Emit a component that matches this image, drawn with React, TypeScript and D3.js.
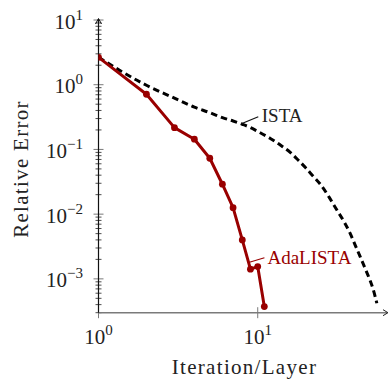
import React from "react";
import * as d3 from "d3";

// AdaLISTA, one value per layer
const adaIters = [1, 2, 3, 4, 5, 6, 7, 8, 9, 10, 11];
const adaErr = [2.65, 0.712, 0.217, 0.144, 0.0731, 0.029, 0.0126, 0.004, 0.00141, 0.00155, 0.000373];

// ISTA
const istaIters = [1, 2, 3, 4, 5, 6, 7, 8, 9, 10, 12, 14, 16, 18, 20, 22, 25, 28, 31, 35, 38, 41, 44, 47, 50, 53, 56];
const istaErr = [
  2.65, 0.98, 0.62, 0.45, 0.37, 0.31, 0.275, 0.245, 0.218, 0.19, 0.148, 0.115, 0.09, 0.068, 0.052, 0.04, 0.028,
  0.0185, 0.0122, 0.0075, 0.0051, 0.0033, 0.0022, 0.0015, 0.00104, 0.0007, 0.00042,
];

const xTickExps = [0, 1];
const yTickExps = [1, 0, -1, -2, -3];
const xDomain = [1, 65.8];
const yDomain = [3.0e-4, 10];

const W = 390;
const H = 379;
const margin = { left: 98.5, right: 2, top: 20, bottom: 66.3 };
const RED = "#990000";
const GRAY = "#7a7a7a";
const FONT = "Liberation Serif";

export default function App() {
  const x = d3.scaleLog().domain(xDomain).range([margin.left, W - margin.right]);
  const y = d3.scaleLog().domain(yDomain).range([H - margin.bottom, margin.top]);
  const x0 = margin.left;
  const y0 = H - margin.bottom;

  const ista = istaIters.map((it, i) => ({ it, v: istaErr[i] }));
  const ada = adaIters.map((it, i) => ({ it, v: adaErr[i] }));

  const istaLine = d3
    .line<{ it: number; v: number }>()
    .x((d) => x(d.it))
    .y((d) => y(d.v))
    .curve(d3.curveMonotoneX);
  const adaLine = d3
    .line<{ it: number; v: number }>()
    .x((d) => x(d.it))
    .y((d) => y(d.v));

  // minor ticks for the y axis
  const minor: number[] = [];
  for (let e = -4; e <= 0; e++) {
    for (let k = 2; k <= 9; k++) {
      const v = k * Math.pow(10, e);
      if (v >= yDomain[0] && v <= yDomain[1]) minor.push(v);
    }
  }

  // label anchors on the curves
  const istaPin = ista[7];
  const adaPin = ada[8];
  const ix = x(istaPin.it);
  const iy = y(istaPin.v);
  const ax = x(adaPin.it);
  const ay = y(adaPin.v) - 7;

  return (
    <svg width={W} height={H} style={{ position: "absolute", left: 0, top: 0 }}>
      <defs>
        <clipPath id="plot">
          <rect x={x0} y={0} width={W - x0} height={y0 + 1} />
        </clipPath>
      </defs>

      {/* y minor ticks */}
      {minor.map((v) => (
        <line key={v} x1={x0 - 3} x2={x0 + 3} y1={y(v)} y2={y(v)} stroke="#222" strokeWidth={0.8} />
      ))}
      {/* y major ticks */}
      {yTickExps.map((e) => (
        <line key={e} x1={x0 - 5} x2={x0 + 5} y1={y(Math.pow(10, e))} y2={y(Math.pow(10, e))} stroke={GRAY} strokeWidth={1} />
      ))}
      {yTickExps.map((e) => (
        <text key={e} x={83} y={y(Math.pow(10, e)) + 8.5} textAnchor="end" fontSize={21} fill="#222" fontFamily={FONT}>
          10
          <tspan dy={-9} fontSize={15}>
            {e < 0 ? "\u2212" + Math.abs(e) : String(e)}
          </tspan>
        </text>
      ))}
      {/* x major ticks */}
      {xTickExps.map((e) => (
        <line key={e} x1={x(Math.pow(10, e))} x2={x(Math.pow(10, e))} y1={y0 - 5.5} y2={y0 + 5.5} stroke={GRAY} strokeWidth={1} />
      ))}
      {xTickExps.map((e) => (
        <text key={e} x={x(Math.pow(10, e))} y={344} textAnchor="middle" fontSize={21} fill="#222" fontFamily={FONT}>
          10
          <tspan dy={-9} fontSize={15}>
            {String(e)}
          </tspan>
        </text>
      ))}

      {/* axes */}
      <line x1={x0} x2={W - 3} y1={y0} y2={y0} stroke={GRAY} strokeWidth={1.4} />
      <polyline points={`${W - 7},${y0 - 3} ${W - 2},${y0} ${W - 7},${y0 + 3}`} fill="none" stroke="#222" strokeWidth={1} />
      <line x1={x0} x2={x0} y1={y0} y2={margin.top - 1} stroke="#111" strokeWidth={1.2} />
      <polyline
        points={`${x0 - 3},${margin.top + 4} ${x0},${margin.top - 1.5} ${x0 + 3},${margin.top + 4}`}
        fill="none"
        stroke="#111"
        strokeWidth={1}
      />

      <g clipPath="url(#plot)">
        <path d={istaLine(ista) || ""} fill="none" stroke="#000" strokeWidth={3} strokeDasharray="6.5 4" />
        <path d={adaLine(ada) || ""} fill="none" stroke={RED} strokeWidth={3} strokeLinejoin="round" />
        {ada.map((d) => (
          <circle key={d.it} cx={x(d.it)} cy={y(d.v)} r={3.4} fill={RED} />
        ))}
      </g>

      {/* pins */}
      <line x1={ix - 1} y1={iy - 0.5} x2={ix + 16} y2={iy - 7.5} stroke="#111" strokeWidth={1.2} />
      <text x={ix + 19.5} y={iy - 2.5} fontSize={19} fill="#222" fontFamily={FONT}>
        ISTA
      </text>
      <line x1={ax - 1} y1={ay} x2={ax + 14} y2={ay - 4.5} stroke={RED} strokeWidth={1.2} />
      <text x={ax + 17} y={ay + 2} fontSize={19} fill={RED} fontFamily={FONT}>
        AdaLISTA
      </text>

      {/* axis titles */}
      <text x={244.5} y={374} textAnchor="middle" fontSize={21} fill="#222" letterSpacing={1.3} fontFamily={FONT}>
        Iteration/Layer
      </text>
      <text
        transform="translate(28,169) rotate(-90)"
        textAnchor="middle"
        fontSize={21}
        fill="#222"
        letterSpacing={1.3}
        fontFamily={FONT}
      >
        Relative Error
      </text>
    </svg>
  );
}
